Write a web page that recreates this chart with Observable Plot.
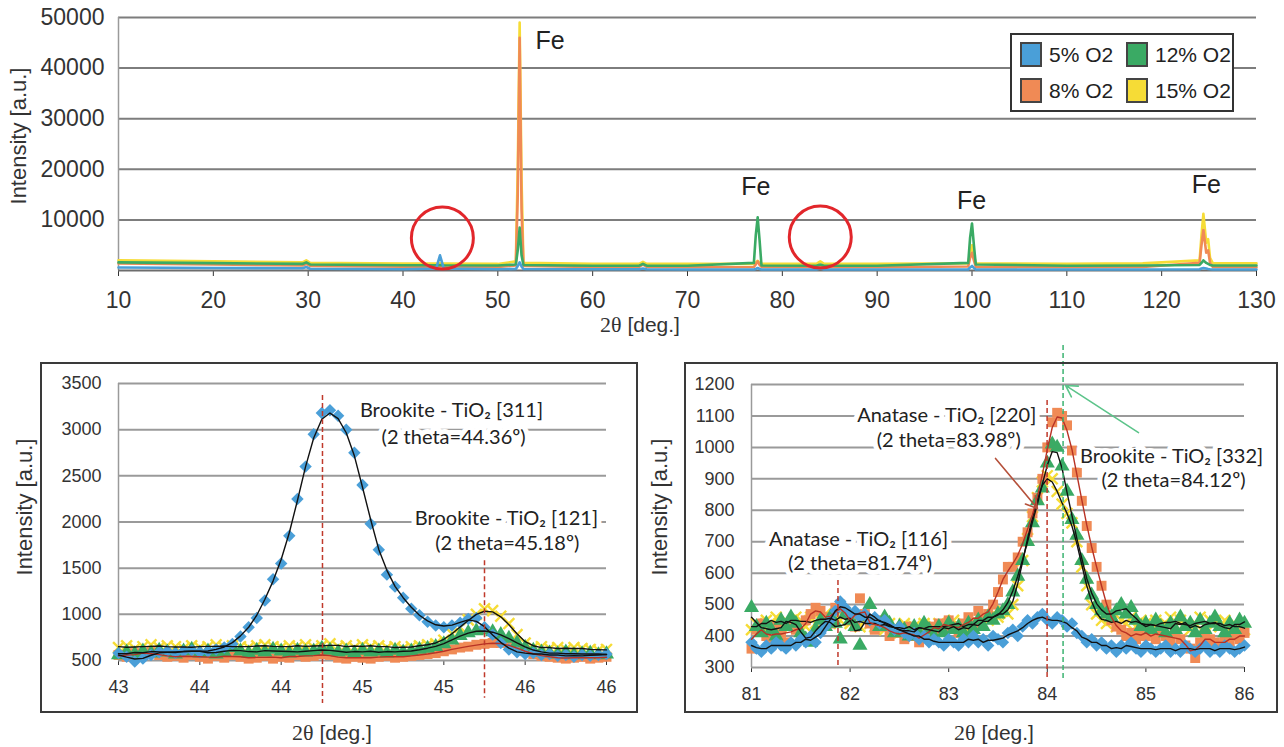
<!DOCTYPE html>
<html><head><meta charset="utf-8">
<script src="https://cdn.jsdelivr.net/npm/d3@7"></script>
<script src="https://cdn.jsdelivr.net/npm/@observablehq/plot@0.6"></script>
<style>
body{margin:0;background:#fff;}
#root{position:relative;width:1284px;height:747px;overflow:hidden;background:#fff;font-family:"Liberation Sans",Arial,sans-serif;color:#2a2a2a;}
#root svg{position:absolute;overflow:visible;}
.frame{position:absolute;border:2px solid #3a3a3a;box-sizing:border-box;}
.ytitle{position:absolute;transform:translate(-50%,-50%) rotate(-90deg);white-space:nowrap;font-size:22px;color:#333;}
.xtitle{position:absolute;transform:translate(-50%,-50%);white-space:nowrap;font-size:21px;color:#333;}
.xtitle .th{font-family:"Liberation Serif","DejaVu Serif",serif;font-size:22px;}
#legend{position:absolute;left:1010px;top:33px;width:224px;height:79px;border:2px solid #333;box-sizing:border-box;background:#fff;}
.li{position:absolute;font-size:21px;color:#222;white-space:nowrap;line-height:22px;}
.sw{display:inline-block;width:18px;height:21px;border:2px solid #444;vertical-align:-5px;margin-right:7px;}
</style></head>
<body><div id="root"></div>
<script>
// ---------- colours (series) ----------
const seriesNames = ["5% O2", "8% O2", "12% O2", "15% O2"];
const seriesColors = ["#4a9fd8", "#f08a55", "#3aaa64", "#f6dc36"];
const trendColors = ["#111111", "#b83225", "#111111", "#111111"];

// ---------- top panel data ----------
const topX = [10, 20, 29.4, 29.8, 30.2, 40, 43.5, 43.9, 44.3, 50, 51.9, 52.1, 52.3, 52.5, 52.7, 60, 64.9, 65.3, 65.7, 70, 77.0, 77.2, 77.4, 77.6, 77.8, 83.6, 84.0, 84.4, 90, 99.6, 99.8, 100.0, 100.2, 100.4, 110, 118, 124.0, 124.2, 124.4, 124.7, 124.9, 125.1, 125.4, 130];
const top5 = [600, 500, 450, 700, 350, 250, 400, 3000, 400, 250, 300, 900, 1600, 800, 300, 250, 250, 400, 250, 200, 200, 300, 500, 300, 200, 200, 400, 200, 200, 200, 600, 900, 500, 200, 200, 200, 250, 400, 500, 400, 300, 250, 200, 200];
const top8 = [1400, 1200, 1000, 1300, 900, 750, 750, 900, 750, 700, 1000, 15000, 46000, 12000, 900, 700, 700, 1200, 700, 650, 700, 1200, 1800, 1100, 700, 650, 900, 650, 650, 800, 2500, 3500, 2000, 700, 650, 700, 1500, 5000, 8000, 3500, 4000, 1500, 700, 650];
const top12 = [1600, 1450, 1300, 1600, 1200, 1050, 1050, 1100, 1050, 1000, 1200, 4000, 8500, 3000, 1100, 950, 950, 1300, 950, 950, 1500, 7000, 10500, 6000, 1000, 950, 1200, 950, 950, 1500, 6500, 9300, 5000, 1200, 950, 1000, 1100, 1500, 2000, 1500, 1300, 1100, 1000, 1000];
const top15 = [2000, 1800, 1600, 2000, 1500, 1350, 1350, 1500, 1350, 1300, 1800, 20000, 49000, 18000, 1500, 1300, 1300, 1700, 1300, 1300, 1300, 1600, 1900, 1500, 1300, 1300, 1800, 1300, 1300, 1400, 3500, 5000, 3000, 1400, 1300, 1400, 2000, 7000, 11200, 5500, 6200, 2500, 1400, 1400];
const topXTicks = [10, 20, 30, 40, 50, 60, 70, 80, 90, 100, 110, 120, 130];
const topYTicks = [10000, 20000, 30000, 40000, 50000];
const feLabelX = [55.5, 77.2, 99.95, 124.7];
const feLabelY = [45300, 16600, 13800, 16800];
const circleX = [44.15, 84.0];
const circleY = [6400, 6600];

// ---------- bottom-left panel data ----------
const leftX = [43,43.05,43.1,43.15,43.2,43.25,43.3,43.35,43.4,43.45,43.5,43.55,43.6,43.65,43.7,43.75,43.8,43.85,43.9,43.95,
44,44.05,44.1,44.15,44.2,44.25,44.3,44.35,44.4,44.45,44.5,44.55,44.6,44.65,44.7,44.75,44.8,44.85,44.9,44.95,
45,45.05,45.1,45.15,45.2,45.25,45.3,45.35,45.4,45.45,45.5,45.55,45.6,45.65,45.7,45.75,45.8,45.85,45.9,45.95,46];
const left5 = [580,540,490,520,560,590,600,580,600,610,590,600,620,640,680,760,860,960,1150,1380,
1550,1850,2250,2600,2950,3180,3210,3150,3000,2750,2400,1980,1700,1430,1300,1180,1060,990,920,880,
860,880,910,950,960,860,780,690,620,590,570,580,560,570,550,560,540,560,550,560,570];
const left8 = [560,540,580,570,590,560,540,550,530,560,540,520,550,530,560,540,520,530,550,520,
540,530,560,540,550,570,560,530,520,540,530,520,540,550,530,540,550,560,570,580,
600,620,640,650,670,680,690,690,670,630,600,570,550,540,530,520,530,540,520,530,540];
const left12 = [560,590,570,600,580,610,590,570,600,620,580,600,570,590,640,600,580,610,590,620,
600,580,610,590,600,630,610,590,600,580,610,590,600,580,610,590,600,620,630,650,
680,720,770,800,820,830,810,780,740,690,640,610,590,580,570,590,560,570,580,560,570];
const left15 = [640,660,630,650,670,640,660,650,630,660,640,650,670,640,660,650,640,660,670,650,
640,660,650,670,640,660,680,650,660,640,670,650,660,640,650,630,650,660,670,680,
720,790,860,940,1000,1060,1040,980,900,780,690,640,650,630,640,620,640,630,620,610,620];
const leftXTicks = [43, 43.5, 44, 44.5, 45, 45.5, 46];
const leftYTicks = [500, 1000, 1500, 2000, 2500, 3000, 3500];
const leftDashX = [44.254, 45.25];
const leftDashTop = [3370, 1580];
const leftDashBottom = [35, 90];
const leftAnnText = ["Brookite - TiO₂ [311]", "(2 theta=44.36º)", "Brookite - TiO₂ [121]", "(2 theta=45.18º)"];
const leftAnnX = [45.047, 45.06, 45.385, 45.39];
const leftAnnY = [3207, 2915, 2038, 1767];

// ---------- bottom-right panel data ----------
const rightX = [81,81.05,81.1,81.15,81.2,81.25,81.3,81.35,81.4,81.45,81.5,81.55,81.6,81.65,81.7,81.75,81.8,81.85,81.9,81.95,
82,82.05,82.1,82.15,82.2,82.25,82.3,82.35,82.4,82.45,82.5,82.55,82.6,82.65,82.7,82.75,82.8,82.85,82.9,82.95,
83,83.05,83.1,83.15,83.2,83.25,83.3,83.35,83.4,83.45,83.5,83.55,83.6,83.65,83.7,83.75,83.8,83.85,83.9,83.95,
84,84.05,84.1,84.15,84.2,84.25,84.3,84.35,84.4,84.45,84.5,84.55,84.6,84.65,84.7,84.75,84.8,84.85,84.9,84.95,
85,85.05,85.1,85.15,85.2,85.25,85.3,85.35,85.4,85.45,85.5,85.55,85.6,85.65,85.7,85.75,85.8,85.85,85.9,85.95,86];
const right5 = [380,360,350,370,360,380,370,360,380,370,390,380,400,380,410,430,450,480,510,490,
470,480,460,470,450,460,440,450,430,420,430,410,400,410,390,400,380,390,380,370,
390,380,370,390,380,400,380,390,370,400,390,380,410,420,400,430,450,440,460,470,
450,440,460,450,430,440,410,400,380,390,370,380,360,370,350,370,360,380,360,350,
370,360,350,360,370,350,360,350,370,360,350,360,370,350,360,350,370,360,350,360,370];
const right8 = [360,420,440,400,380,430,410,380,440,420,400,450,470,490,480,460,440,490,500,470,
450,430,520,470,440,420,450,430,400,420,410,390,430,400,380,400,430,410,440,420,
450,430,410,440,460,430,480,460,470,500,540,580,620,620,650,700,730,790,840,900,
1000,1080,1110,1100,1070,990,920,830,750,680,620,560,500,450,430,420,400,410,390,420,
400,410,390,420,400,380,410,390,370,360,330,380,400,390,380,370,390,380,400,390,410];
const right12 = [490,430,410,440,420,400,450,430,460,440,410,390,380,420,450,430,460,440,390,470,
450,430,370,460,500,450,430,460,440,410,430,420,400,430,410,440,420,400,430,410,
440,420,430,410,440,420,450,430,460,450,470,480,500,540,590,640,700,760,830,870,
950,1010,1000,940,860,770,720,640,580,530,500,480,470,460,480,500,470,490,450,430,
440,420,450,430,410,440,420,460,430,440,410,450,420,440,460,430,410,440,420,450,440];
const right15 = [420,440,430,450,440,460,430,450,440,460,450,430,460,440,450,470,440,460,450,470,
440,460,430,450,440,430,450,420,440,430,410,440,420,430,410,440,420,430,440,420,
430,450,430,440,420,450,440,460,450,470,460,480,470,500,560,640,710,780,840,890,
910,900,860,820,790,760,700,620,560,500,470,450,440,460,430,450,440,460,430,450,
440,420,450,430,440,460,430,450,440,420,440,460,430,450,440,430,450,420,440,430,420];
const rightXTicks = [81, 82, 83, 84, 85, 86];
const rightYTicks = [300, 400, 500, 600, 700, 800, 900, 1000, 1100, 1200];
const rightDashX = [81.877, 83.998, 84.16];
const rightDashTop = [577, 1149, 1324];
const rightDashBottom = [300, 265, 265];
const rightDashColor = ["#c0392b", "#c0392b", "#3cb371"];
const rightAnnText = ["Anatase - TiO₂ [220]", "(2 theta=83.98º)", "Brookite - TiO₂ [332]", "(2 theta=84.12º)", "Anatase - TiO₂ [116]", "(2 theta=81.74º)"];
const rightAnnX = [82.98, 83.0, 85.26, 85.28, 82.085, 82.1];
const rightAnnY = [1101, 1022, 971, 895, 707, 631];
const arrowX1 = [84.925, 83.475];
const arrowY1 = [1047, 965];
const arrowX2 = [84.185, 83.90];
const arrowY2 = [1197, 806];
const arrowColor = ["#5cc48a", "#b5503a"];

// ---------- build ----------
const root = document.getElementById("root");
const tickFont = '"Liberation Sans",Arial,sans-serif';
const annFont = 'Lato,"Open Sans",sans-serif';
const plain = d => String(d);

function place(svg, left, top) { svg.style.left = left + "px"; svg.style.top = top + "px"; root.appendChild(svg); }

// top
{
  const mk = ys => topX.map((x, i) => ({x, y: ys[i]}));
  const order = [3, 1, 2, 0];
  const ys = [top5, top8, top12, top15];
  const svg = Plot.plot({
    width: 1284, height: 320, marginLeft: 118, marginRight: 28, marginTop: 17, marginBottom: 50,
    style: {fontFamily: tickFont, fontSize: "23px", color: "#333", background: "transparent"},
    x: {domain: [10, 130], ticks: topXTicks, tickFormat: plain, tickSize: 6, tickPadding: 15, label: null},
    y: {domain: [0, 50000], ticks: topYTicks, tickFormat: plain, tickSize: 0, tickPadding: 14, label: null},
    marks: [
      Plot.ruleY(topYTicks, {stroke: "#7d7d7d", strokeWidth: 2}),
      Plot.ruleX([10], {y1: 0, y2: 50000, stroke: "#9a9a9a", strokeWidth: 1.5}),
      Plot.ruleY([0], {stroke: "#6d6d6d", strokeWidth: 2}),
      ...order.map(k => Plot.line(mk(ys[k]), {x: "x", y: "y", stroke: seriesColors[k], strokeWidth: 2.6})),
      Plot.dot(circleX.map((x, i) => ({x, y: circleY[i]})), {x: "x", y: "y", r: 31, stroke: "#e2262b", strokeWidth: 3, fill: "none"}),
      Plot.text(feLabelX.map((x, i) => ({x, y: feLabelY[i], t: "Fe"})), {x: "x", y: "y", text: "t", fontSize: 25, fill: "#222"})
    ]
  });
  place(svg, 0, 0);
}

function panel(opts) {
  const {xs, ys, xDomain, yDomain, xTicks, yTicks, xFormat, w, h, m, dashX, dashTop, dashBottom, dashColor, annText, annX, annY, extra} = opts;
  const mk = arr => xs.map((x, i) => ({x, y: arr[i]}));
  const sym = ["diamond2", "square", "triangle", "times"];
  const order = [3, 1, 2, 0];
  const dashes = dashX.map((x, i) => ({x, y1: dashTop[i], y2: dashBottom[i], c: dashColor[i]}));
  const ann = annText.map((t, i) => ({t, x: annX[i], y: annY[i]}));
  return Plot.plot({
    width: w, height: h, marginLeft: m[0], marginRight: m[1], marginTop: m[2], marginBottom: m[3],
    style: {fontFamily: tickFont, fontSize: "18px", color: "#333", background: "transparent"},
    x: {domain: xDomain, ticks: xTicks, tickFormat: xFormat, tickSize: 5, tickPadding: 15, label: null},
    y: {domain: yDomain, ticks: yTicks, tickFormat: plain, tickSize: 0, tickPadding: 17, label: null},
    marks: [
      Plot.ruleY(yTicks, {stroke: "#9a9a9a", strokeWidth: 2}),
      Plot.ruleX([xDomain[0]], {y1: yDomain[0], y2: yDomain[1], stroke: "#9a9a9a", strokeWidth: 1.5}),
      ...order.map(k => sym[k] === "times"
        ? Plot.dot(mk(ys[k]), {x: "x", y: "y", symbol: "times", r: 5, stroke: seriesColors[k], strokeWidth: 2.4})
        : Plot.dot(mk(ys[k]), {x: "x", y: "y", symbol: sym[k], r: 5.6, fill: seriesColors[k]})),
      ...order.map(k => Plot.lineY(mk(ys[k]), Plot.windowY({k: 3}, {x: "x", y: "y", stroke: trendColors[k], strokeWidth: 1.4}))),
      Plot.ruleX(dashes, {x: "x", y1: "y1", y2: "y2", stroke: "c", strokeDasharray: "5,3", strokeWidth: 1.5}),
      ...(extra || []),
      Plot.text(ann, {x: "x", y: "y", text: "t", fontFamily: annFont, fontSize: 20, fill: "white", stroke: "white", strokeWidth: 10, strokeLinejoin: "round"}),
      Plot.text(ann, {x: "x", y: "y", text: "t", fontFamily: annFont, fontSize: 20, fill: "#222"})
    ]
  });
}

const left = panel({
  xs: leftX, ys: [left5, left8, left12, left15], xDomain: [43, 46], yDomain: [500, 3500],
  xTicks: leftXTicks, yTicks: leftYTicks, xFormat: d => String(Math.round(d)),
  w: 640, h: 397, m: [118, 34, 33, 87],
  dashX: leftDashX, dashTop: leftDashTop, dashBottom: leftDashBottom, dashColor: ["#c0392b", "#c0392b"],
  annText: leftAnnText, annX: leftAnnX, annY: leftAnnY
});
place(left, 0, 350);

const arrows = arrowX1.map((x1, i) => ({x1, y1: arrowY1[i], x2: arrowX2[i], y2: arrowY2[i], c: arrowColor[i]}));
const right = panel({
  xs: rightX, ys: [right5, right8, right12, right15], xDomain: [81, 86], yDomain: [300, 1200],
  xTicks: rightXTicks, yTicks: rightYTicks, xFormat: plain,
  w: 644, h: 397, m: [111, 40, 34, 80],
  dashX: rightDashX, dashTop: rightDashTop, dashBottom: rightDashBottom, dashColor: rightDashColor,
  annText: rightAnnText, annX: rightAnnX, annY: rightAnnY,
  extra: [Plot.arrow(arrows, {x1: "x1", y1: "y1", x2: "x2", y2: "y2", stroke: "c", strokeWidth: 1.6, headLength: 12})]
});
place(right, 640, 350);

// frames, titles, legend (HTML)
function div(cls, styles, html) {
  const d = document.createElement("div"); d.className = cls; Object.assign(d.style, styles); if (html != null) d.innerHTML = html; root.appendChild(d); return d;
}
div("frame", {left: "40px", top: "362px", width: "598px", height: "351px"});
div("frame", {left: "684px", top: "362px", width: "594px", height: "351px"});
div("ytitle", {left: "19px", top: "136px"}, "Intensity [a.u.]");
div("ytitle", {left: "25px", top: "507px"}, "Intensity [a.u.]");
div("ytitle", {left: "660px", top: "507px"}, "Intensity [a.u.]");
div("xtitle", {left: "640px", top: "325px"}, '<span class="th">2θ</span> [deg.]');
div("xtitle", {left: "332px", top: "733px"}, '<span class="th">2θ</span> [deg.]');
div("xtitle", {left: "994px", top: "733px"}, '<span class="th">2θ</span> [deg.]');
const legend = div("", {}, null); legend.id = "legend";
const legPos = [[8, 7], [8, 43], [114, 7], [114, 43]];
seriesNames.forEach((n, i) => {
  const it = document.createElement("div"); it.className = "li";
  it.style.left = legPos[i][0] + "px"; it.style.top = legPos[i][1] + "px";
  it.innerHTML = `<span class="sw" style="background:${seriesColors[i]}"></span>${n}`;
  legend.appendChild(it);
});
</script></body></html>
